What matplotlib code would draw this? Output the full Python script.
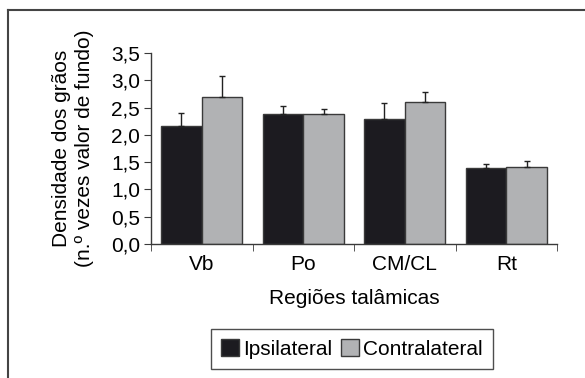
import matplotlib
matplotlib.use("Agg")
import matplotlib.pyplot as plt
from matplotlib.lines import Line2D
import numpy as np

plt.rcParams['font.family'] = ['Liberation Sans', 'DejaVu Sans']

regions = ["Vb", "Po", "CM/CL", "Rt"]
ipsilateral = [2.17, 2.39, 2.29, 1.39]
ipsilateral_err = [0.23, 0.14, 0.30, 0.08]
contralateral = [2.70, 2.38, 2.60, 1.41]
contralateral_err = [0.38, 0.10, 0.18, 0.12]
series_names = ["Ipsilateral", "Contralateral"]
y_ticks = [0.0, 0.5, 1.0, 1.5, 2.0, 2.5, 3.0, 3.5]

FS = 15
W, H = 585, 378
fig = plt.figure(figsize=(W / 100, H / 100), dpi=100)
ax = fig.add_axes([151 / W, 1 - 244 / H, (557 - 151) / W, (244 - 53) / H])

x = np.arange(len(regions))
bw = 0.4
edge = "#3a3a3a"
err_kw = dict(ecolor="#222222", elinewidth=1.0, capsize=2.5, capthick=1.0)
ax.bar(x - bw / 2, ipsilateral, bw, color="#1c1b20", edgecolor=edge, linewidth=1.0,
       yerr=[np.zeros(len(x)), ipsilateral_err], error_kw=err_kw, label=series_names[0])
ax.bar(x + bw / 2, contralateral, bw, color="#b1b2b4", edgecolor=edge, linewidth=1.0,
       yerr=[np.zeros(len(x)), contralateral_err], error_kw=err_kw, label=series_names[1])

ax.set_xlim(-0.5, len(regions) - 0.5)
ax.set_ylim(0, 3.5)
ax.set_yticks(y_ticks)
ax.set_yticklabels([f"{v:.1f}".replace(".", ",") for v in y_ticks], fontsize=FS)
ax.set_xticks(x)
ax.set_xticklabels(regions, fontsize=FS)
ax.tick_params(axis="x", which="major", length=0, pad=8)
ax.set_xticks(np.arange(-0.5, len(regions), 1.0), minor=True)
ax.tick_params(axis="x", which="minor", length=5, direction="out", color=edge)
ax.tick_params(axis="y", length=5, direction="out", color=edge, pad=3)
for s in ("top", "right"):
    ax.spines[s].set_visible(False)
for s in ("left", "bottom"):
    ax.spines[s].set_color(edge)
    ax.spines[s].set_linewidth(1.0)

ax.set_xlabel("Regiões talâmicas", fontsize=FS, labelpad=11)
ax.set_ylabel("Densidade dos grãos\n(n.º vezes valor de fundo)", fontsize=FS,
              linespacing=1.3, labelpad=12)

leg = fig.legend(loc="center", bbox_to_anchor=(352 / W, 1 - 349 / H), ncol=2,
                 fontsize=FS, frameon=True, fancybox=False, edgecolor="#222222",
                 handlelength=0.87, handleheight=0.87, handletextpad=0.2,
                 columnspacing=0.4, borderpad=0.5, borderaxespad=0)
leg.get_frame().set_linewidth(1.0)

# panel frame along top and left
fig.add_artist(Line2D([8 / W, 1], [1 - 10 / H, 1 - 10 / H], color="#444444", lw=1.5,
                      transform=fig.transFigure))
fig.add_artist(Line2D([8 / W, 8 / W], [0, 1 - 10 / H], color="#444444", lw=1.5,
                      transform=fig.transFigure))

fig.savefig("out.png", dpi=100)
